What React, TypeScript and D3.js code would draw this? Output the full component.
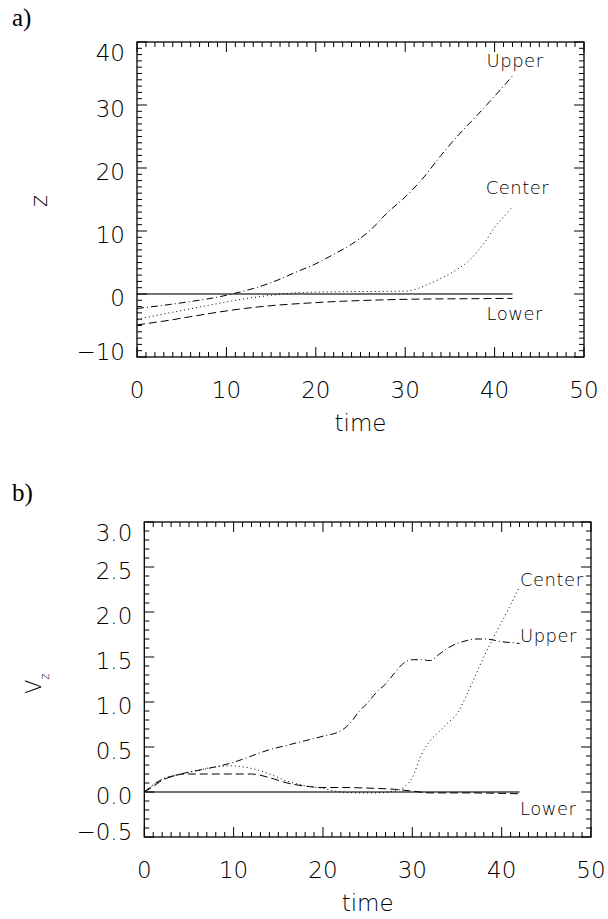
import React from 'react';
import * as d3 from 'd3';

// panel a) : z vs time
const upperATime = [0, 5, 10, 15, 18, 20, 22, 24, 26, 28, 30, 32, 34, 36, 38, 40, 42];
const upperAZ = [-2.3, -1.4, -0.2, 1.8, 3.6, 4.8, 6.3, 7.9, 10.0, 12.9, 15.4, 18.4, 22.0, 25.3, 28.3, 31.4, 34.6];
const centerATime = [0, 4, 8, 11, 15, 18, 22, 26, 30, 31, 32, 33, 34, 35, 36, 37, 38, 39, 40, 41, 42];
const centerAZ = [-4.0, -2.9, -1.8, -1.0, -0.2, 0.2, 0.35, 0.4, 0.45, 0.7, 1.2, 1.8, 2.5, 3.2, 4.1, 5.1, 6.6, 8.4, 10.6, 12.2, 13.9];
const lowerATime = [0, 3, 6, 9, 12, 15, 19, 23, 27, 32, 37, 42];
const lowerAZ = [-4.9, -4.3, -3.6, -2.9, -2.3, -1.85, -1.45, -1.15, -0.95, -0.8, -0.75, -0.7];

// panel b) : Vz vs time
const upperBTime = [0, 1, 2, 3, 4.5, 6, 8, 10, 12, 14, 16, 18, 20, 22, 23, 24, 25, 26, 27, 28, 29, 30, 31, 32, 33, 34, 35, 36, 37, 38, 39, 40, 41, 42];
const upperBV = [0, 0.08, 0.14, 0.17, 0.21, 0.24, 0.28, 0.33, 0.40, 0.47, 0.52, 0.57, 0.62, 0.68, 0.76, 0.89, 0.99, 1.11, 1.2, 1.32, 1.43, 1.47, 1.47, 1.46, 1.53, 1.60, 1.65, 1.68, 1.70, 1.70, 1.69, 1.67, 1.66, 1.65];
const centerBTime = [0, 2, 4.5, 6, 8, 10, 11, 12.5, 14, 16, 18, 20, 22, 24, 26, 28, 29, 30, 31, 32, 33, 34, 35, 36, 37, 38, 39, 40, 41, 42];
const centerBV = [0, 0.14, 0.21, 0.24, 0.28, 0.29, 0.28, 0.25, 0.20, 0.12, 0.07, 0.04, 0.0, -0.01, -0.01, 0.01, 0.05, 0.16, 0.41, 0.57, 0.67, 0.77, 0.87, 1.06, 1.28, 1.50, 1.70, 1.89, 2.08, 2.28];
const lowerBTime = [0, 1, 2, 3, 4.5, 8, 12, 14, 16, 18, 20, 22, 26, 28, 30, 32, 36, 42];
const lowerBV = [0, 0.06, 0.13, 0.17, 0.20, 0.20, 0.20, 0.16, 0.10, 0.065, 0.05, 0.05, 0.04, 0.03, 0.01, -0.01, -0.01, -0.02];

const zeroTime = [0, 42];
const zeroVal = [0, 0];

const xTicks = [0, 10, 20, 30, 40, 50];
const yTicksA = [-10, 0, 10, 20, 30, 40];
const yTicksB = [-0.5, 0, 0.5, 1.0, 1.5, 2.0, 2.5, 3.0];

const FONT = '"DejaVu Sans", sans-serif';
const dashUpper = '7,3,1,3';
const dashCenter = '1,3';
const dashLower = '8,4';

type Series = { t: number[]; v: number[]; dash?: string; zero?: boolean };
type Label = { text: string; t: number; v: number };

const Panel = ({ top, left, right, bottom, yDomain, yTicks, minorStep, fmt, series, labels, tag, yLabel }: any) => {
  const x = d3.scaleLinear().domain([0, 50]).range([left, right]);
  const y = d3.scaleLinear().domain(yDomain).range([bottom, top]);
  const line = d3.line<[number, number]>().x(d => x(d[0])).y(d => y(d[1])).curve(d3.curveMonotoneX);

  const xMinor = d3.range(0, 50.001, 1);
  const yMinor = d3.range(yDomain[0], yDomain[1] + 1e-6, minorStep);
  const isMajorY = (v: number) => yTicks.some((m: number) => Math.abs(m - v) < 1e-6);

  return (
    <g>
      <text x={12} y={top - (tag === 'a)' ? 16 : 21)} fontFamily='"Liberation Serif", serif' fontSize={25}>{tag}</text>
      {series.map((s: Series, i: number) => (
        <path key={i} d={line(s.t.map((t, j) => [t, s.v[j]]) as [number, number][]) || ''} fill="none"
          stroke={s.zero ? '#444' : '#000'} strokeWidth={s.zero ? 1.6 : 1} strokeDasharray={s.dash} />
      ))}
      <rect x={left} y={top} width={right - left} height={bottom - top} fill="none" stroke="#000" strokeWidth={1.3} />
      {xMinor.map(t => {
        const len = t % 10 === 0 ? 10 : 5;
        return (
          <g key={'x' + t}>
            <line x1={x(t)} x2={x(t)} y1={bottom} y2={bottom - len} stroke="#000" strokeWidth={1} />
            <line x1={x(t)} x2={x(t)} y1={top} y2={top + len} stroke="#000" strokeWidth={1} />
          </g>
        );
      })}
      {yMinor.map(v => {
        const len = isMajorY(v) ? 10 : 5;
        return (
          <g key={'y' + v}>
            <line x1={left} x2={left + len} y1={y(v)} y2={y(v)} stroke="#000" strokeWidth={1} />
            <line x1={right} x2={right - len} y1={y(v)} y2={y(v)} stroke="#000" strokeWidth={1} />
          </g>
        );
      })}
      {xTicks.map(t => (
        <text key={'xl' + t} x={x(t)} y={bottom + 41} textAnchor="middle" fontFamily={FONT} fontWeight={200} fontSize={23}>{t}</text>
      ))}
      {yTicks.map((v: number) => {
        const cy = Math.min(Math.max(y(v) + 3, top + 10), bottom - 6);
        return (
          <text key={'yl' + v} x={left - 12} y={cy + 8.5} textAnchor="end" fontFamily={FONT} fontWeight={200} fontSize={23}>{fmt(v)}</text>
        );
      })}
      <text x={(left + right) / 2} y={bottom + 74} textAnchor="middle" fontFamily={FONT} fontWeight={200} fontSize={23}>time</text>
      {yLabel}
      {labels.map((l: Label) => (
        <text key={l.text} x={x(l.t)} y={y(l.v)} fontFamily={FONT} fontWeight={200} fontSize={18} letterSpacing={0.5}>{l.text}</text>
      ))}
    </g>
  );
};

const App = () => {
  const fmtA = d3.format('d');
  const fmtB = d3.format('.1f');
  return (
    <svg width={608} height={919} style={{ position: 'absolute', left: 0, top: 0, background: '#fff' }}>
      <Panel
        top={42} left={137} right={584} bottom={357}
        yDomain={[-10, 40]} yTicks={yTicksA} minorStep={1} fmt={fmtA} tag="a)"
        series={[
          { t: zeroTime, v: zeroVal, zero: true },
          { t: upperATime, v: upperAZ, dash: dashUpper },
          { t: centerATime, v: centerAZ, dash: dashCenter },
          { t: lowerATime, v: lowerAZ, dash: dashLower },
        ]}
        labels={[
          { text: 'Upper', t: 39.1, v: 36 },
          { text: 'Center', t: 39.0, v: 15.8 },
          { text: 'Lower', t: 39.1, v: -4.2 },
        ]}
        yLabel={<text transform="translate(47,201) rotate(-90)" textAnchor="middle" fontFamily={FONT} fontWeight={200} fontSize={23}>z</text>}
      />
      <Panel
        top={522} left={144.3} right={591} bottom={837}
        yDomain={[-0.5, 3.0]} yTicks={yTicksB} minorStep={0.1} fmt={fmtB} tag="b)"
        series={[
          { t: zeroTime, v: zeroVal, zero: true },
          { t: upperBTime, v: upperBV, dash: dashUpper },
          { t: centerBTime, v: centerBV, dash: dashCenter },
          { t: lowerBTime, v: lowerBV, dash: dashLower },
        ]}
        labels={[
          { text: 'Center', t: 42.05, v: 2.29 },
          { text: 'Upper', t: 42.05, v: 1.67 },
          { text: 'Lower', t: 42.05, v: -0.25 },
        ]}
        yLabel={
          <text transform="translate(41,694) rotate(-90)" fontFamily={FONT} fontWeight={200} fontSize={21}>
            V<tspan fontSize={12} dy={8}>z</tspan>
          </text>
        }
      />
    </svg>
  );
};

export default App;
